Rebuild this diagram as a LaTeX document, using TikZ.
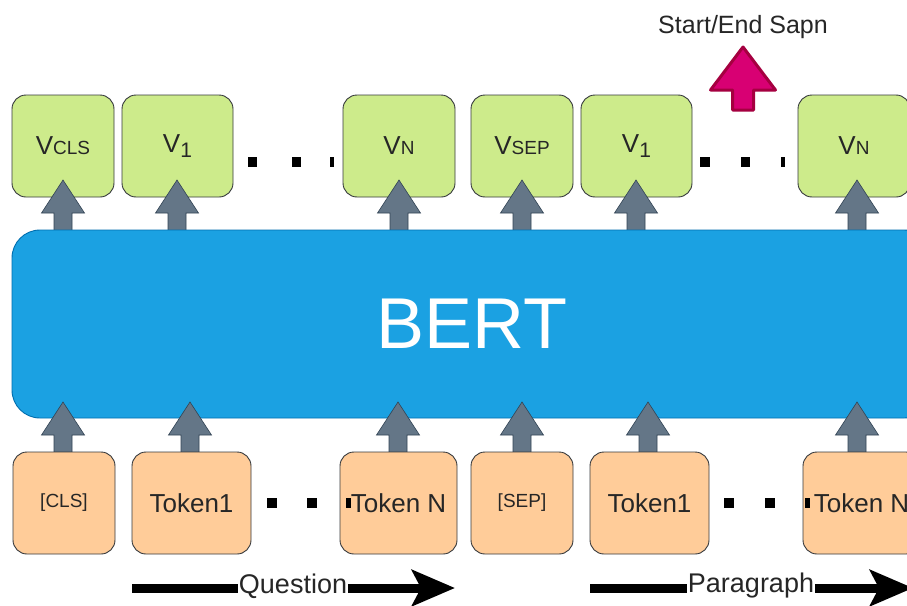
\documentclass[tikz,border=0pt]{standalone}
\usepackage{fontspec}
\setmainfont{Liberation Sans}
\usetikzlibrary{arrows.meta}
\definecolor{bertfill}{HTML}{1BA1E2}
\definecolor{bertline}{HTML}{006EAF}
\definecolor{gfill}{HTML}{CDEB8B}
\definecolor{boxline}{HTML}{36393D}
\definecolor{ofill}{HTML}{FFCC99}
\definecolor{afill}{HTML}{647687}
\definecolor{aline}{HTML}{314354}
\definecolor{pfill}{HTML}{D80073}
\definecolor{pline}{HTML}{A50040}
\newcommand\fsz[1]{\fontsize{#1}{#1}\selectfont}
\newcommand\garrow[3]{%
  \draw[garr] (#1,#2) -- (#1+21.5,#2+33) -- (#1+9,#2+33) -- (#1+9,#3) -- (#1-9,#3) -- (#1-9,#2+33) -- (#1-21.5,#2+33) -- cycle;}
\newcommand\Vsub[1]{\fsz{26}V\fsz{19}#1}
\newcommand\Vone{\fsz{26}V\raisebox{-5pt}{\fsz{21}1}}
\begin{document}
\begin{tikzpicture}[x=1pt,y=-1pt,
  vbox/.style={draw=boxline, fill=gfill, line width=0.9pt, rounded corners=14pt, minimum height=102pt, inner sep=0pt, text=black!85},
  tbox/.style={draw=boxline, fill=ofill, line width=0.9pt, rounded corners=14pt, minimum height=102pt, inner sep=0pt, text=black!85},
  garr/.style={fill=afill, draw=aline, line width=0.6pt},
  dotsq/.style={fill=black},
  bigarr/.style={line width=9pt, -{Stealth[length=43pt, width=36pt, inset=9pt]}},
  lbl/.style={fill=white, inner sep=1pt, text=black!85, font=\fsz{27}}
]
\useasboundingbox (0,0) rectangle (907,605);
\clip (0,0) rectangle (907,605);
\fill[white] (0,0) rectangle (907,605);

% top vector boxes
\node[vbox, minimum width=102pt] (vcls) at (63,146) {\Vsub{CLS}};
\node[vbox, minimum width=111pt] (va1) at (177.5,146) {\Vone};
\node[vbox, minimum width=112pt] (van) at (399,146) {\Vsub{N}};
\node[vbox, minimum width=102pt] (vsep) at (522,146) {\Vsub{SEP}};
\node[vbox, minimum width=111pt] (vb1) at (636.5,146) {\Vone};
\node[vbox, minimum width=112pt] (vbn) at (854,146) {\Vsub{N}};

% top gray arrows
\garrow{63}{180}{232}
\garrow{177}{180}{232}
\garrow{399}{180}{232}
\garrow{522}{180}{232}
\garrow{636}{180}{232}
\garrow{857}{180}{232}

% BERT
\node[draw=bertline, fill=bertfill, line width=0.9pt, rounded corners=28pt, minimum width=920pt, minimum height=188pt, inner sep=0pt, text=white, font=\fsz{72}] (bert) at (472,324) {BERT};

% bottom gray arrows
\garrow{63}{402}{454}
\garrow{190}{402}{454}
\garrow{398}{402}{454}
\garrow{522}{402}{454}
\garrow{648}{402}{454}
\garrow{857}{402}{454}

% token boxes
\node[tbox, minimum width=102pt, font=\fsz{19}] (cls) at (64,503) {[CLS]};
\node[tbox, minimum width=119pt, font=\fsz{26}] (ta1) at (191.5,503) {Token1};
\node[tbox, minimum width=117pt, font=\fsz{26}] (tan) at (398.5,503) {Token N};
\node[tbox, minimum width=102pt, font=\fsz{19}] (sep) at (522,503) {[SEP]};
\node[tbox, minimum width=119pt, font=\fsz{26}] (tb1) at (649.5,503) {Token1};
\node[tbox, minimum width=117pt, font=\fsz{26}] (tbn) at (861.5,503) {Token N};

% dots
\fill[dotsq] (248,157) rectangle (257,167);
\fill[dotsq] (292,157) rectangle (301,167);
\fill[dotsq] (330,157) rectangle (334,167);
\fill[dotsq] (700,157) rectangle (710,167);
\fill[dotsq] (741,157) rectangle (750,167);
\fill[dotsq] (781,157) rectangle (785,167);
\fill[dotsq] (267,498) rectangle (277,508);
\fill[dotsq] (307,498) rectangle (317,508);
\fill[dotsq] (346,498) rectangle (351,508);
\fill[dotsq] (724,498) rectangle (734,508);
\fill[dotsq] (765,498) rectangle (775,508);
\fill[dotsq] (805,498) rectangle (810,508);

% start/end span arrow
\draw[fill=pfill, draw=pline, line width=3pt, line join=round]
  (743,47) -- (775.5,90) -- (753.5,90) -- (753.5,110) -- (732.5,110) -- (732.5,90) -- (710.5,90) -- cycle;
\node[text=black!85, font=\fsz{25}, inner sep=0pt] (span) at (743,27) {Start/End Sapn};

% question / paragraph arrows
\coordinate (qs) at (132,588);
\coordinate (qe) at (455,588);
\draw[bigarr] (qs) -- (qe);
\node[lbl] (q) at (293,586) {Question};
\coordinate (ps) at (590,588);
\coordinate (pe) at (913,588);
\draw[bigarr] (ps) -- (pe);
\node[lbl] (p) at (751,586) {Paragraph};
\end{tikzpicture}
\end{document}
